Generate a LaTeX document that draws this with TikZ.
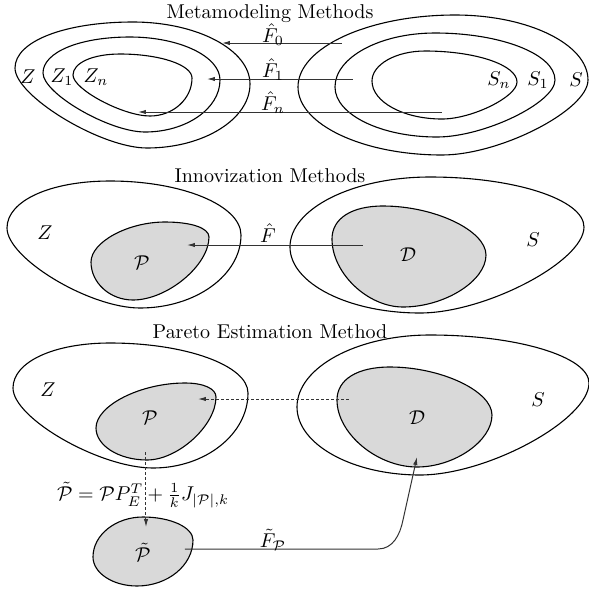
\documentclass[tikz,border=0pt]{standalone}
\usetikzlibrary{arrows.meta}
\newcommand\egg[9]{\path[#1] (#2,#3) .. controls (#2,{#3+\ka*(#5-#3)}) and ({#4+\ka*(#2-#4)},#5) .. (#4,#5) .. controls ({#4+\kb*(#6-#4)},#5) and (#6,{#7+\kb*(#5-#7)}) .. (#6,#7) .. controls (#6,{#7+\kc*(#9-#7)}) and ({#8+\kc*(#6-#8)},#9) .. (#8,#9) .. controls ({#8+\kd*(#2-#8)},#9) and (#2,{#3+\kd*(#9-#3)}) .. cycle;}
\newcommand\setk[4]{\def\ka{#1}\def\kb{#2}\def\kc{#3}\def\kd{#4}}
\setk{0.55}{0.55}{0.55}{0.55}
\tikzset{
  set/.style={draw=black, line width=0.55pt},
  region/.style={draw=black, fill=black!15, line width=0.55pt},
  arr/.style={-{Latex[length=4pt,width=2.2pt]}, line width=0.5pt, draw=black!80},
  darr/.style={arr, dash pattern=on 1.5pt off 1pt},
  ttl/.style={font=\normalsize, inner sep=0pt},
  lbl/.style={inner sep=0pt},
}
\begin{document}
\begin{tikzpicture}[x=0.5pt,y=-0.5pt]
\useasboundingbox (0,0) rectangle (589,591);
% ---------- Section 1: Metamodeling ----------
\setk{0.58}{0.55}{0.55}{0.35}
\egg{set}{15}{68}{133}{22}{250}{84}{147}{148}
\egg{set}{43}{73}{130}{37}{220}{80}{145}{132}
\egg{set}{73}{75}{120}{54}{192}{78}{150}{116}
\setk{0.55}{0.55}{0.4}{0.55}
\egg{set}{298}{87}{455}{15}{588}{80}{442}{155}
\egg{set}{335}{87}{435}{33}{555}{80}{437}{137}
\egg{set}{372}{81}{425}{51}{517}{82}{442}{119}
\node[ttl] (t1) at (270,14) {Metamodeling Methods};
\node[lbl] (z) at (28,77) {$Z$};
\node[lbl] (z1) at (62,77) {$Z_1$};
\node[lbl] (zn) at (96,77) {$Z_n$};
\node[lbl] (sn) at (499,80) {$S_n$};
\node[lbl] (s1) at (538,80) {$S_1$};
\node[lbl] (s) at (576,80) {$S$};
\coordinate (a0s) at (342,43); \coordinate (a0e) at (222,43);
\coordinate (a1s) at (353,79); \coordinate (a1e) at (207,79);
\coordinate (ans) at (442,112); \coordinate (ane) at (138,112);
\draw[arr] (a0s) -- (a0e);
\draw[arr] (a1s) -- (a1e);
\draw[arr] (ans) -- (ane);
\node[lbl] (f0) at (273,35) {$\hat F_0$};
\node[lbl] (f1) at (273,70) {$\hat F_1$};
\node[lbl] (fn) at (273,103) {$\hat F_n$};
% ---------- Section 2: Innovization ----------
\setk{0.58}{0.55}{0.55}{0.38}
\egg{set}{7}{228}{110}{181}{241}{235}{140}{308}
\setk{0.5}{0.6}{0.45}{0.55}
\egg{region}{91}{262}{165}{222}{209}{237}{133}{300}
\setk{0.55}{0.55}{0.4}{0.55}
\egg{set}{290}{247}{430}{177}{584}{227}{420}{313}
\setk{0.62}{0.5}{0.5}{0.5}
\egg{region}{332}{239}{383}{206}{486}{255}{403}{307}
\node[ttl] (t2) at (270,176) {Innovization Methods};
\node[lbl] (z2) at (45,233) {$Z$};
\node[lbl] (p2) at (142,263) {$\mathcal{P}$};
\node[lbl] (d2) at (408,255) {$\mathcal{D}$};
\node[lbl] (s2) at (533,240) {$S$};
\coordinate (bs) at (363,245); \coordinate (be) at (187,245);
\draw[arr] (bs) -- (be);
\node[lbl] (fh) at (268,233) {$\hat F$};
% ---------- Section 3: Pareto Estimation ----------
\setk{0.58}{0.55}{0.55}{0.38}
\egg{set}{13}{388}{110}{343}{248}{393}{153}{468}
\setk{0.5}{0.6}{0.45}{0.55}
\egg{region}{96}{428}{185}{383}{216}{397}{147}{460}
\setk{0.55}{0.55}{0.4}{0.55}
\egg{set}{297}{407}{430}{335}{589}{383}{420}{475}
\setk{0.62}{0.5}{0.5}{0.5}
\egg{region}{337}{400}{390}{367}{492}{415}{417}{467}
\setk{0.55}{0.55}{0.55}{0.55}
\egg{region}{93}{557}{143}{517}{193}{540}{137}{586}
\node[ttl] (t3) at (270,332) {Pareto Estimation Method};
\node[lbl] (z3) at (48,390) {$Z$};
\node[lbl] (p3) at (150,418) {$\mathcal{P}$};
\node[lbl] (d3) at (417,418) {$\mathcal{D}$};
\node[lbl] (s3) at (538,400) {$S$};
\node[lbl] (pt) at (143,552) {$\tilde{\mathcal{P}}$};
\coordinate (cs) at (349,399); \coordinate (ce) at (198,399);
\draw[darr] (cs) -- (ce);
\coordinate (vs) at (146,452); \coordinate (ve) at (146,527);
\draw[darr] (vs) -- (ve);
\node[lbl] (eq) at (143,495) {$\tilde{\mathcal{P}} = \mathcal{P}P_E^T + \frac{1}{k}J_{|\mathcal{P}|,k}$};
\coordinate (ws) at (185,549); \coordinate (w1) at (378,549); \coordinate (w2) at (403,520); \coordinate (we) at (417,457);
\draw[arr] (ws) -- (w1) to[out=0,in=258.7] (w2) -- (we);
\node[lbl] (ft) at (273,540) {$\tilde F_{\mathcal{P}}$};
\end{tikzpicture}
\end{document}
